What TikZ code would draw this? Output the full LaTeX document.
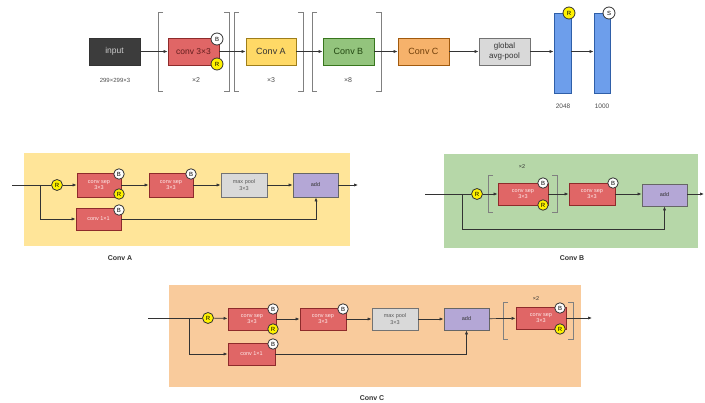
\documentclass[tikz,border=0pt]{standalone}
\usepackage{fontspec}
\setmainfont{Liberation Sans}
\usetikzlibrary{arrows.meta}
\definecolor{lnc}{HTML}{333333}
\definecolor{inpf}{HTML}{3C3C3C}
\definecolor{redf}{HTML}{E06666}
\definecolor{redd}{HTML}{8E2B2B}
\definecolor{yelf}{HTML}{FFD966}
\definecolor{yeld}{HTML}{9E7E1A}
\definecolor{grnf}{HTML}{93C47D}
\definecolor{grnd}{HTML}{38761D}
\definecolor{orgf}{HTML}{F6B26B}
\definecolor{orgd}{HTML}{A15A0E}
\definecolor{gryf}{HTML}{D9D9D9}
\definecolor{blf}{HTML}{6D9EEB}
\definecolor{bld}{HTML}{2F5FA8}
\definecolor{purf}{HTML}{B4A7D6}
\definecolor{panA}{HTML}{FFE599}
\definecolor{panB}{HTML}{B6D7A8}
\definecolor{panC}{HTML}{F9CB9C}
\definecolor{brk}{HTML}{808080}
\tikzset{
  box/.style={draw, line width=0.8pt, inner sep=0pt, align=center, rectangle},
  redbox/.style={box, fill=redf, draw=redd, text=red!8},
  bcirc/.style={circle, draw=lnc, line width=0.8pt, fill=white, inner sep=0pt, minimum size=#1, font=\fontsize{6}{6}\selectfont},
  rcirc/.style={bcirc=#1, fill=yellow},
  conn/.style={draw=lnc, line width=0.7pt, -{Latex[length=4pt,width=3.2pt]}},
  wire/.style={draw=lnc, line width=0.7pt},
  bracket/.style={draw=brk, line width=0.6pt},
  small/.style={font=\fontsize{5.5}{6.5}\selectfont},
  lbl/.style={font=\fontsize{7}{8}\selectfont\bfseries, text=lnc},
}
\begin{document}
\begin{tikzpicture}[x=1pt,y=-1pt]
\useasboundingbox (0,0) rectangle (705,403);
% ---------------- top row ----------------
\node[box, fill=inpf, draw=black!80, text=black!20, minimum width=51pt, minimum height=27pt, font=\fontsize{8.5}{9}\selectfont] (inp) at (114.5,51.5) {input};
\node[font=\fontsize{6}{7}\selectfont, text=black!70] (inpdim) at (115,80) {299×299×3};
\node[redbox, text=redd!70!black, minimum width=51pt, minimum height=27pt, font=\fontsize{8.5}{9}\selectfont] (c33) at (193.5,51.5) {conv 3×3};
\node[bcirc=12pt] (c33b) at (217,39) {B};
\node[rcirc=12pt] (c33r) at (217,64) {R};
\node[font=\fontsize{7}{8}\selectfont, text=black!70] (x2) at (196,80) {×2};
\node[box, fill=yelf, draw=yeld, text=lnc, minimum width=50pt, minimum height=27pt, font=\fontsize{9}{10}\selectfont] (ca) at (271,51.5) {Conv A};
\node[font=\fontsize{7}{8}\selectfont, text=black!70] (x3) at (271,80) {×3};
\node[box, fill=grnf, draw=grnd, text=grnd!60!black, minimum width=51pt, minimum height=27pt, font=\fontsize{9}{10}\selectfont] (cb) at (348.5,51.5) {Conv B};
\node[font=\fontsize{7}{8}\selectfont, text=black!70] (x8) at (348,80) {×8};
\node[box, fill=orgf, draw=orgd, text=orgd!70!black, minimum width=51pt, minimum height=27pt, font=\fontsize{9}{10}\selectfont] (cc) at (423.5,51.5) {Conv C};
\node[box, fill=gryf, draw=black!55, text=lnc, minimum width=51pt, minimum height=27pt, font=\fontsize{8}{9.5}\selectfont] (gap) at (504.5,51.5) {global\\avg-pool};
\node[box, fill=blf, draw=bld, minimum width=17pt, minimum height=80pt] (fc1) at (562.5,53) {};
\node[box, fill=blf, draw=bld, minimum width=16pt, minimum height=80pt] (fc2) at (602,53) {};
\node[rcirc=12pt] (fc1r) at (569,13) {R};
\node[bcirc=12pt] (fc2s) at (609,13) {S};
\node[font=\fontsize{6.5}{7}\selectfont, text=black!70] (d2048) at (563,106) {2048};
\node[font=\fontsize{6.5}{7}\selectfont, text=black!70] (d1000) at (602,106) {1000};
\draw[bracket] (163,12) -- (158,12) -- (158,91) -- (163,91);
\draw[bracket] (224,12) -- (229,12) -- (229,91) -- (224,91);
\draw[bracket] (239,12) -- (234,12) -- (234,91) -- (239,91);
\draw[bracket] (298,12) -- (303,12) -- (303,91) -- (298,91);
\draw[bracket] (317,12) -- (312,12) -- (312,91) -- (317,91);
\draw[bracket] (376,12) -- (381,12) -- (381,91) -- (376,91);
\path[conn] (inp) -- (c33);
\path[conn] (c33) -- (ca);
\path[conn] (ca) -- (cb);
\path[conn] (cb) -- (cc);
\path[conn] (cc) -- (gap);
\path[conn] (gap) -- (gap -| fc1.west);
\path[conn] (fc1.east |- gap) -- (gap -| fc2.west);
% ---------------- Conv A ----------------
\fill[panA, drop shadow/.try] (24,153) rectangle (350,246);
\node[lbl] (lA) at (120,258) {Conv A};
\coordinate (aIn) at (12,185);
\coordinate (aBr) at (40,185);
\coordinate (aOut) at (358,185);
\node[rcirc=11pt] (aR) at (57,185) {R};
\node[redbox, small, minimum width=44pt, minimum height=24pt] (aS1) at (99,185) {conv sep\\3×3};
\node[bcirc=10.5pt] (aS1b) at (119,174) {B};
\node[rcirc=10.5pt] (aS1r) at (119,194) {R};
\node[redbox, small, minimum width=44pt, minimum height=24pt] (aS2) at (171,185) {conv sep\\3×3};
\node[bcirc=10.5pt] (aS2b) at (191,174) {B};
\node[box, fill=gryf, draw=black!55, text=black!65, small, minimum width=46pt, minimum height=24pt] (aMP) at (244,185) {max pool\\3×3};
\node[box, fill=purf, draw=black!60, text=lnc, small, minimum width=45pt, minimum height=24pt] (aAdd) at (315.5,185) {add};
\node[redbox, small, minimum width=45pt, minimum height=22pt] (aC1) at (98.5,219) {conv 1×1};
\node[bcirc=10.5pt] (aC1b) at (119,210) {B};
\path[wire] (aIn) -- (aR);
\path[conn] (aR) -- (aS1);
\path[conn] (aS1) -- (aS2);
\path[conn] (aS2) -- (aMP);
\path[conn] (aMP) -- (aAdd);
\path[conn] (aAdd) -- (aOut);
\path[conn] (aBr) |- (aC1);
\path[conn] (aC1) -| (aAdd.south -| 316,0);
% ---------------- Conv B ----------------
\fill[panB] (444,154) rectangle (698,248);
\node[lbl] (lB) at (572,258) {Conv B};
\coordinate (bIn) at (425,194);
\coordinate (bBr) at (462,194);
\coordinate (bOut) at (704,194);
\node[rcirc=11pt] (bR) at (477,194) {R};
\node[redbox, small, minimum width=50pt, minimum height=22pt] (bS1) at (523,194) {conv sep\\3×3};
\node[bcirc=10.5pt] (bS1b) at (543,183) {B};
\node[rcirc=10.5pt] (bS1r) at (543,205) {R};
\node[small, text=lnc] (bx2) at (522,167) {×2};
\draw[bracket] (493,175) -- (488,175) -- (488,212) -- (493,212);
\draw[bracket] (552,175) -- (557,175) -- (557,212) -- (552,212);
\node[redbox, small, minimum width=46pt, minimum height=22pt] (bS2) at (592,194) {conv sep\\3×3};
\node[bcirc=10.5pt] (bS2b) at (613,183) {B};
\node[box, fill=purf, draw=black!60, text=lnc, small, minimum width=45pt, minimum height=22pt] (bAdd) at (664.5,195) {add};
\coordinate (bLow) at (462,229);
\path[wire] (bIn) -- (bR);
\path[conn] (bR) -- (bS1);
\path[conn] (bS1) -- (bS2);
\path[conn] (bS2) -- (bS2 -| bAdd.west);
\path[conn] (bAdd.east |- bS2) -- (bOut);
\path[conn] (bBr) -- (bLow) -| (bAdd.south);
% ---------------- Conv C ----------------
\fill[panC] (169,285) rectangle (581,387);
\node[lbl] (lC) at (372,398) {Conv C};
\coordinate (cIn) at (148,318);
\coordinate (cBr) at (189,318);
\coordinate (cOut) at (592,318);
\node[rcirc=11pt] (cR) at (208,318) {R};
\node[redbox, small, minimum width=48pt, minimum height=22pt] (cS1) at (252,319) {conv sep\\3×3};
\node[bcirc=10.5pt] (cS1b) at (273,309) {B};
\node[rcirc=10.5pt] (cS1r) at (273,329) {R};
\node[redbox, small, minimum width=46pt, minimum height=22pt] (cS2) at (323,319) {conv sep\\3×3};
\node[bcirc=10.5pt] (cS2b) at (343,309) {B};
\node[box, fill=gryf, draw=black!55, text=black!65, small, minimum width=46pt, minimum height=22pt] (cMP) at (395,319) {max pool\\3×3};
\node[box, fill=purf, draw=black!60, text=lnc, small, minimum width=45pt, minimum height=22pt] (cAdd) at (466.5,319) {add};
\node[redbox, small, minimum width=50pt, minimum height=22pt] (cS3) at (541,318) {conv sep\\3×3};
\node[bcirc=10.5pt] (cS3b) at (560,308) {B};
\node[rcirc=10.5pt] (cS3r) at (560,329) {R};
\node[small, text=lnc] (cx2) at (536,299) {×2};
\draw[bracket] (508,302) -- (503,302) -- (503,339) -- (508,339);
\draw[bracket] (568,302) -- (573,302) -- (573,339) -- (568,339);
\node[redbox, small, minimum width=47pt, minimum height=22pt] (cC1) at (251.5,354) {conv 1×1};
\node[bcirc=10.5pt] (cC1b) at (273,344) {B};
\path[wire] (cIn) -- (cR);
\path[conn] (cR) -- (cS1);
\path[conn] (cS1) -- (cS2);
\path[conn] (cS2) -- (cMP);
\path[conn] (cMP) -- (cAdd);
\path[conn] (cAdd) -- (cS3);
\path[conn] (cS3) -- (cOut);
\path[conn] (cBr) |- (cC1);
\path[conn] (cC1) -| (cAdd.south);
\end{tikzpicture}
\end{document}
